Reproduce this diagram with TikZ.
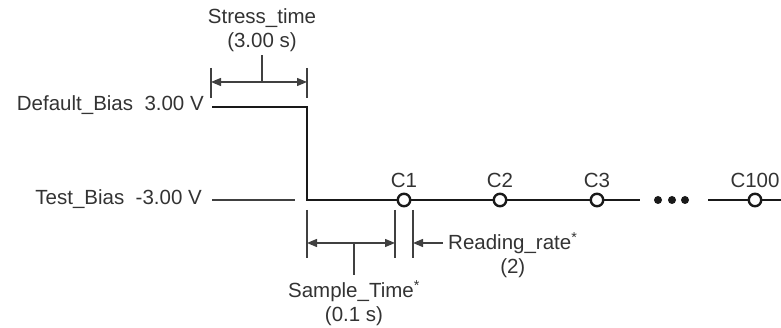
\documentclass[tikz,border=0pt]{standalone}
\usepackage{fontspec}
\setmainfont{Liberation Sans}
\usetikzlibrary{arrows.meta,positioning}
\definecolor{txtgray}{HTML}{333333}
\tikzset{
  lbl/.style  = {font=\fontsize{20.5}{24}\selectfont, text=txtgray, inner sep=0pt, align=center},
  lvl/.style  = {line width=2.4pt, black!90},
  thn/.style  = {line width=1.3pt, black!75},
  dim/.style  = {{Triangle[length=10pt,width=8pt]}-{Triangle[length=10pt,width=8pt]}, thn},
  dimr/.style = {-{Triangle[length=10pt,width=8pt]}, thn},
  rd/.style   = {circle, draw=black!90, line width=2.4pt, fill=white, minimum size=12.5pt, inner sep=0pt},
  dot/.style  = {circle, fill=black!90, minimum size=8pt, inner sep=0pt},
}
\begin{document}
\begin{tikzpicture}[x=1pt,y=1pt]
  \useasboundingbox (0,0) rectangle (781,328);
  % levels
  \node[lbl, anchor=east] (dflt) at (204,223) {Default\_Bias\ \ 3.00 V};
  \node[lbl, anchor=east] (test) at (202,129) {Test\_Bias\ \ -3.00 V};
  \coordinate (d0) at (212,221);
  \coordinate (d1) at (307,221);
  \coordinate (t0) at (212,128);
  \coordinate (t1) at (295,128);
  \coordinate (w1) at (307,128);
  \coordinate (w2) at (640,128);
  \coordinate (w3) at (708,128);
  \coordinate (w4) at (781,128);
  \draw[thn] (t0) -- (t1);
  \draw[lvl] (d0) -- (d1) -- (w1) -- (w2);
  \draw[lvl] (w3) -- (w4);
  % readings
  \node[rd] (c1) at (404,128) {};
  \node[rd] (c2) at (500,128) {};
  \node[rd] (c3) at (597,128) {};
  \node[rd] (c100) at (755,128) {};
  \foreach \c/\t in {c1/C1, c2/C2, c3/C3, c100/C100}
    \node[lbl, above=5pt of \c] {\t};
  \foreach \x in {658,672,685}
    \node[dot] at (\x,128) {};
  % stress time
  \coordinate (sa0) at (211,260);
  \coordinate (sa1) at (211,230);
  \coordinate (sb0) at (307,260);
  \coordinate (sb1) at (307,230);
  \coordinate (sl) at (211,246);
  \coordinate (sr) at (307,246);
  \coordinate (sm) at (262,246);
  \coordinate (st) at (262,273);
  \draw[thn] (sa0) -- (sa1);
  \draw[thn] (sb0) -- (sb1);
  \draw[dim] (sl) -- (sr);
  \node[lbl, anchor=south] (stress) at (262,276) {Stress\_time\\(3.00 s)};
  \draw[thn] (sm) -- (st);
  % sample time / reading rate
  \coordinate (pa0) at (307,118);
  \coordinate (pa1) at (307,70);
  \coordinate (pb0) at (395,118);
  \coordinate (pb1) at (395,70);
  \coordinate (pc0) at (413,118);
  \coordinate (pc1) at (413,70);
  \coordinate (pl) at (307,85);
  \coordinate (pr) at (395,85);
  \coordinate (pm) at (354,85);
  \coordinate (pt) at (354,53);
  \draw[thn] (pa0) -- (pa1);
  \draw[thn] (pb0) -- (pb1);
  \draw[thn] (pc0) -- (pc1);
  \draw[dim] (pl) -- (pr);
  \node[lbl, anchor=north] (sample) at (354,48) {Sample\_Time\textsuperscript{*}\\(0.1 s)};
  \draw[thn] (pm) -- (pt);
  \node[lbl, anchor=west] (rate) at (448,85) {Reading\_rate\textsuperscript{*}};
  \node[lbl, below=4pt of rate] (rateval) {(2)};
  \coordinate (rs) at (443,85);
  \coordinate (rc) at (413,85);
  \draw[dimr] (rs) -- (rc);
\end{tikzpicture}
\end{document}
